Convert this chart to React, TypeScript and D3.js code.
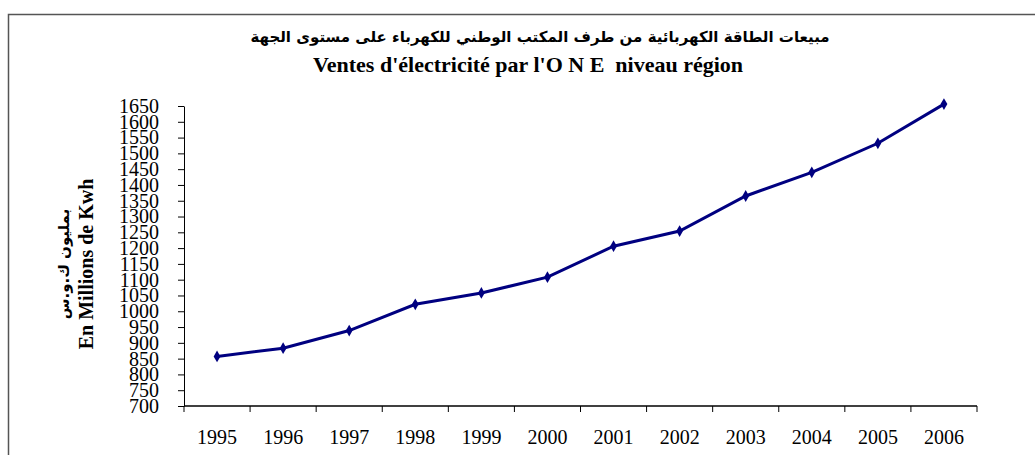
import React, { useEffect, useRef } from 'react';
import * as d3 from 'd3';

// annual sales, millions of kWh
const years = ['1995', '1996', '1997', '1998', '1999', '2000', '2001', '2002', '2003', '2004', '2005', '2006'];
const sales = [857, 883, 939, 1022, 1058, 1108, 1206, 1254, 1365, 1440, 1532, 1656];
const yTicks = [700, 750, 800, 850, 900, 950, 1000, 1050, 1100, 1150, 1200, 1250, 1300, 1350, 1400, 1450, 1500, 1550, 1600, 1650];

const titleAr = 'مبيعات الطاقة الكهربائية من طرف المكتب الوطني للكهرباء على مستوى الجهة';
const titleFr = "Ventes d'électricité par l'O N E  niveau région";
const yTitleAr = 'بمليون ك.و.س';
const yTitleFr = 'En Millions de Kwh';

export default function App() {
  const svgRef = useRef<SVGSVGElement | null>(null);

  useEffect(() => {
    if (!svgRef.current) return;
    const width = 1035;
    const height = 455;
    const serif = "'Liberation Serif', 'Times New Roman', serif";

    const svg = d3.select(svgRef.current);
    svg.selectAll('*').remove();
    svg.attr('width', width).attr('height', height);

    svg.append('rect')
      .attr('width', width).attr('height', height).attr('fill', '#fff');

    // outer frame (runs off the right and bottom)
    svg.append('rect')
      .attr('x', 8.5).attr('y', 14.5)
      .attr('width', 1100).attr('height', 500)
      .attr('fill', 'none')
      .attr('stroke', '#555')
      .attr('stroke-width', 1.5);

    const x = d3.scaleBand().domain(years).range([184, 977]);
    const y = d3.scaleLinear().domain([700, 1650]).range([406, 106]);

    // titles
    svg.append('text')
      .attr('x', 540).attr('y', 42)
      .attr('text-anchor', 'middle')
      .style('font-family', "'DejaVu Sans', 'Noto Sans', sans-serif")
      .style('font-weight', 'bold')
      .style('font-size', '15px')
      .attr('direction', 'rtl')
      .text(titleAr);

    svg.append('text')
      .attr('x', 528).attr('y', 72)
      .attr('text-anchor', 'middle')
      .style('font-family', serif)
      .style('font-weight', 'bold')
      .style('font-size', '22px')
      .style('white-space', 'pre')
      .text(titleFr);

    // y axis
    const yAxis = d3.axisLeft(y)
      .tickValues(yTicks)
      .tickFormat(d3.format('d'))
      .tickSize(6)
      .tickSizeOuter(0)
      .tickPadding(19);
    const gy = svg.append('g').attr('transform', 'translate(184,0)').call(yAxis);
    gy.attr('font-family', null).attr('font-size', null);
    gy.select('.domain').attr('stroke', '#000').attr('stroke-width', 1);
    gy.selectAll('.tick line').attr('stroke', '#000');
    gy.selectAll('.tick text')
      .style('font-family', serif)
      .style('font-size', '20px')
      .attr('fill', '#000');

    // x axis, ticks at category boundaries
    const gx = svg.append('g').attr('transform', 'translate(0,406)');
    gx.append('line')
      .attr('x1', 184).attr('x2', 977)
      .attr('stroke', '#000').attr('stroke-width', 1.5);
    const bounds = years.map(d => x(d) as number).concat([x.range()[1]]);
    gx.selectAll('line.tk')
      .data(bounds)
      .enter()
      .append('line')
      .attr('class', 'tk')
      .attr('x1', d => d).attr('x2', d => d)
      .attr('y1', 0).attr('y2', 6)
      .attr('stroke', '#000');
    gx.selectAll('text')
      .data(years)
      .enter()
      .append('text')
      .attr('x', d => (x(d) as number) + x.bandwidth() / 2)
      .attr('y', 38)
      .attr('text-anchor', 'middle')
      .style('font-family', serif)
      .style('font-size', '20px')
      .text(d => d);

    // y axis title
    const yt = svg.append('text')
      .attr('transform', 'translate(0,264) rotate(-90)')
      .attr('text-anchor', 'middle')
      .style('font-weight', 'bold');
    yt.append('tspan')
      .attr('x', 0).attr('y', 69)
      .style('font-family', "'DejaVu Sans', sans-serif")
      .style('font-size', '15px')
      .text(yTitleAr);
    yt.append('tspan')
      .attr('x', 0).attr('y', 93)
      .style('font-family', serif)
      .style('font-size', '20px')
      .text(yTitleFr);

    // series
    const line = d3.line<number>()
      .x((_, i) => (x(years[i]) as number) + x.bandwidth() / 2)
      .y(d => y(d));

    svg.append('path')
      .datum(sales)
      .attr('d', line)
      .attr('fill', 'none')
      .attr('stroke', '#000080')
      .attr('stroke-width', 3);

    svg.selectAll('path.pt')
      .data(sales)
      .enter()
      .append('path')
      .attr('class', 'pt')
      .attr('d', d3.symbol().type(d3.symbolDiamond).size(40))
      .attr('transform', (d, i) => `translate(${(x(years[i]) as number) + x.bandwidth() / 2},${y(d)})`)
      .attr('fill', '#000080');
  }, []);

  return (
    <svg ref={svgRef} style={{ position: 'absolute', left: 0, top: 0 }}></svg>
  );
}
